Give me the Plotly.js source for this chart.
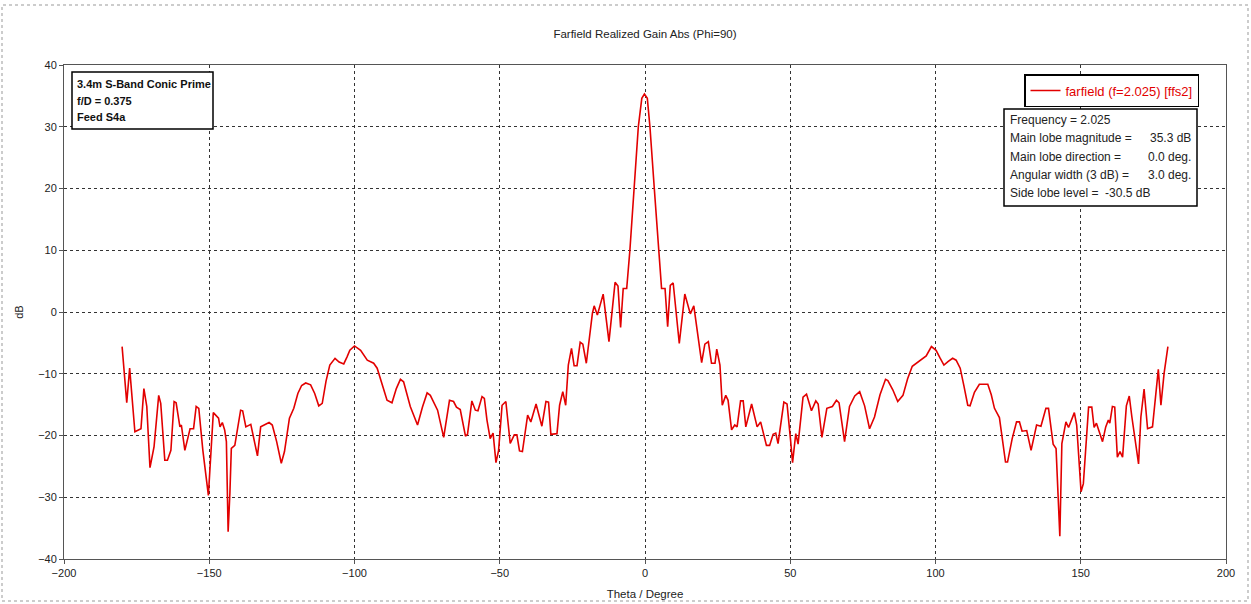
<!DOCTYPE html>
<html>
<head>
<meta charset="utf-8">
<script src="https://cdn.plot.ly/plotly-3.0.1.min.js"></script>
<style>html,body{margin:0;padding:0;background:#fff;}#chart{width:1251px;height:604px;}</style>
</head>
<body>
<div id="chart"></div>
<script>
// Theta (degrees) and realized gain (dB)
const theta = [
 -180.0,-178.4,-177.4,-175.6,-173.5,-172.5,-171.5,-170.4,-169.0,-167.4,-166.7,-165.3,-164.4,-163.2,-162.1,-161.4,
 -160.1,-159.6,-158.4,-156.6,-155.4,-154.5,-153.6,-152.2,-150.3,-148.6,-146.8,-146.3,-145.5,-144.7,-144.1,-143.5,
 -142.9,-142.4,-141.2,-139.2,-138.5,-137.4,-135.7,-133.4,-132.3,-130.9,-129.4,-128.3,-126.8,-125.2,-124.1,-122.4,
 -120.9,-119.5,-118.2,-116.8,-115.1,-113.7,-112.3,-111.1,-109.8,-108.5,-106.7,-105.3,-103.7,-102.6,-101.6,-100.0,-97.9,
 -95.6,-93.4,-92.2,-90.5,-88.8,-87.1,-85.6,-84.2,-83.1,-80.8,-78.3,-76.6,-75.0,-73.9,-71.4,-69.3,-67.3,-65.9,-64.9,
 -63.6,-61.8,-61.1,-59.6,-58.4,-57.5,-56.1,-55.3,-54.4,-53.3,-52.3,-51.3,-50.4,-49.2,-47.9,-46.4,-45.0,-44.1,-43.2,
 -42.2,-40.4,-39.3,-37.5,-35.5,-34.1,-33.2,-32.4,-30.3,-29.4,-28.3,-27.3,-26.4,-25.3,-24.4,-23.4,-22.3,-21.4,-20.2,
 -18.1,-17.5,-16.4,-14.4,-12.4,-10.3,-9.3,-8.4,-7.5,-6.3,-5.2,-3.8,-2.3,-1.1,-0.2,0.8,1.7,3.2,4.6,5.7,6.9,7.8,8.7,
 9.7,11.8,13.7,15.6,16.8,19.5,20.6,21.8,22.9,24.1,24.7,25.8,26.6,27.8,28.6,29.8,30.9,31.7,32.9,33.8,34.7,36.7,38.6,
 39.8,41.8,42.9,44.1,45.0,45.8,47.8,48.9,50.1,50.8,51.9,52.7,54.4,55.6,57.3,58.8,59.6,60.9,62.6,64.5,65.9,66.8,68.7,
 70.4,72.2,73.9,75.6,77.3,79.0,80.9,82.8,83.6,85.3,87.0,88.8,90.4,92.0,94.7,96.8,98.6,100.2,101.5,102.9,104.4,105.9,
 107.1,108.5,109.8,111.1,111.9,113.4,115.1,118.0,119.2,120.3,122.0,124.1,124.8,126.4,127.9,128.9,129.8,131.4,132.9,
 134.8,136.3,138.0,138.9,140.5,141.5,142.4,142.8,143.5,144.9,145.8,147.8,148.6,150.1,150.9,152.7,153.8,154.6,155.4,
 157.5,158.6,159.5,160.0,160.9,161.7,162.6,163.5,164.4,165.7,166.7,167.6,169.9,170.7,171.8,173.0,174.7,176.7,177.6,
 178.7,180.0
];
const gain = [
 -5.6,-14.7,-9.1,-19.4,-18.9,-12.4,-15.3,-25.2,-21.8,-13.5,-14.8,-24.0,-24.0,-22.4,-14.5,-14.7,
 -18.6,-18.3,-22.4,-18.9,-18.9,-15.3,-15.6,-22.4,-29.7,-16.3,-17.2,-18.6,-17.9,-19.1,-21.0,-35.6,
 -29.4,-22.1,-21.6,-15.9,-16.0,-18.6,-18.2,-23.3,-18.6,-18.3,-17.9,-18.3,-21.0,-24.5,-22.6,-17.2,
 -15.6,-13.2,-11.9,-11.5,-11.8,-13.2,-15.2,-14.8,-11.2,-8.6,-7.5,-8.1,-8.4,-7.3,-6.2,-5.5,-6.2,
 -7.8,-8.3,-9.1,-11.8,-14.3,-14.7,-12.4,-10.9,-11.3,-15.3,-18.3,-15.4,-13.1,-13.5,-15.9,-20.3,-14.3,-14.5,-15.4,
 -15.8,-20.1,-19.8,-14.4,-15.9,-16.0,-13.7,-14.0,-17.5,-20.5,-19.6,-24.4,-22.4,-15.1,-14.5,-21.3,-19.9,-19.9,-22.5,
 -22.6,-16.7,-17.8,-14.9,-18.5,-14.5,-14.6,-19.8,-19.7,-15.1,-12.9,-15.1,-8.6,-5.9,-8.7,-8.7,-4.9,-5.2,-8.3,
 -0.2,1.0,-0.5,2.9,-4.8,4.8,4.2,-2.5,3.8,3.8,10.0,20.0,30.0,34.6,35.3,34.6,30.0,20.0,10.0,3.8,3.8,-2.4,4.3,
 4.7,-5.1,2.9,-0.3,1.0,-8.2,-5.2,-4.8,-8.3,-8.3,-6.0,-8.6,-15.1,-13.5,-14.3,-19.1,-18.3,-18.6,-14.4,-14.4,-18.6,-14.9,-18.6,
 -17.8,-21.6,-21.6,-19.8,-19.6,-21.3,-14.6,-14.9,-20.7,-24.4,-19.7,-21.4,-13.8,-13.3,-16.0,-14.4,-14.9,-20.3,-15.6,-15.3,-14.3,-14.7,-21.0,
 -15.3,-13.6,-12.9,-15.2,-18.9,-17.0,-13.4,-10.9,-11.1,-12.6,-14.5,-13.5,-10.8,-8.8,-7.9,-7.1,-5.6,-6.2,-7.4,-8.6,-8.0,-7.5,
 -7.8,-9.1,-12.0,-15.1,-15.2,-13.0,-11.7,-11.7,-13.4,-15.6,-17.1,-24.3,-24.3,-20.5,-17.8,-17.8,-19.3,-19.2,-22.4,
 -18.3,-18.5,-15.6,-15.6,-21.4,-22.1,-32.6,-36.3,-21.3,-17.8,-18.7,-16.3,-18.3,-29.1,-27.8,-15.4,-15.4,-18.7,-18.0,
 -21.0,-18.6,-17.5,-18.0,-15.3,-15.4,-23.5,-22.6,-23.5,-15.2,-13.6,-17.0,-24.6,-17.0,-12.5,-18.9,-18.6,-9.3,-15.1,
 -9.9,-5.6
];
const xTickVals = [-200,-150,-100,-50,0,50,100,150,200];
const yTickVals = [-40,-30,-20,-10,0,10,20,30,40];
const chartTitle = 'Farfield Realized Gain Abs (Phi=90)';
const seriesName = 'farfield (f=2.025) [ffs2]';
const infoLines = ['<b>3.4m S-Band Conic Prime</b>', '<b>f/D = 0.375</b>', '<b>Feed S4a</b>'];
const statLabels = ['Frequency = 2.025', 'Main lobe magnitude =', 'Main lobe direction =', 'Angular width (3 dB) =', 'Side lobe level =  -30.5 dB'];
const statValues = ['', '35.3 dB', '0.0 deg.', '3.0 deg.', ''];

// layout geometry (pixels)
const W = 1251, H = 604, L = 64, R = 25, T = 65, B = 45;
const PW = W - L - R, PH = H - T - B;
const px = x => (x - L) / PW;
const py = y => (H - B - y) / PH;

const FONT = 'Liberation Sans, Arial, sans-serif';
const shapes = [
  {type:'rect', xref:'paper', yref:'paper', x0:px(72), x1:px(213), y0:py(129), y1:py(72),
   line:{color:'#000', width:1.5}, fillcolor:'#fff', layer:'above'},
  {type:'rect', xref:'paper', yref:'paper', x0:px(1004), x1:px(1197), y0:py(206), y1:py(109),
   line:{color:'#000', width:1.5}, fillcolor:'#fff', layer:'above'},
  {type:'rect', xref:'paper', yref:'paper', x0:px(2), x1:px(1248), y0:py(601), y1:py(5),
   line:{color:'#999', width:1, dash:'dot'}, fillcolor:'rgba(0,0,0,0)', layer:'below'}
];
const annotations = [];
infoLines.forEach((t, i) => annotations.push({
  xref:'paper', yref:'paper', x:px(75), y:py(84 + i*16.5), xanchor:'left', yanchor:'middle',
  text:t, showarrow:false, font:{family:FONT, size:11, color:'#111'}
}));
statLabels.forEach((t, i) => annotations.push({
  xref:'paper', yref:'paper', x:px(1008), y:py(120 + i*18.3), xanchor:'left', yanchor:'middle',
  text:t, showarrow:false, font:{family:FONT, size:12, color:'#222'}
}));
statValues.forEach((t, i) => { if (t) annotations.push({
  xref:'paper', yref:'paper', x:px(1193), y:py(120 + i*18.3), xanchor:'right', yanchor:'middle',
  text:t, showarrow:false, font:{family:FONT, size:12, color:'#222'}
}); });

const trace = {
  x: theta, y: gain, type:'scatter', mode:'lines', name: seriesName,
  line:{color:'rgb(226,0,0)', width:1.6}
};

const axisCommon = {
  showline:true, linecolor:'#555', linewidth:1, mirror:true,
  ticks:'outside', ticklen:4, tickcolor:'#555',
  showgrid:true, gridcolor:'#333', griddash:'dot', gridwidth:1,
  zeroline:false, tickfont:{family:FONT, size:11, color:'#222'}
};

const layout = {
  width:W, height:H,
  margin:{l:L, r:R, t:T, b:B},
  paper_bgcolor:'#fff', plot_bgcolor:'#fff',
  font:{family:FONT, color:'#222'},
  title:{text:chartTitle, x:0.5, xref:'paper', y:1 - 34/H, yref:'container', yanchor:'middle',
         font:{family:FONT, size:11.5, color:'#222'}},
  xaxis:Object.assign({}, axisCommon, {range:[-200,200], tickvals:xTickVals,
         title:{text:'Theta / Degree', standoff:11, font:{family:FONT, size:11.5, color:'#222'}}}),
  yaxis:Object.assign({}, axisCommon, {range:[-40,40], tickvals:yTickVals,
         title:{text:'dB', standoff:12, font:{family:FONT, size:11, color:'#222'}}}),
  showlegend:true,
  legend:{x:px(1024), y:py(74), xanchor:'left', yanchor:'top', bgcolor:'#fff',
          bordercolor:'#000', borderwidth:1.5, font:{family:FONT, size:13, color:'rgb(226,0,0)'},
          tracegroupgap:0, itemwidth:30},
  shapes:shapes, annotations:annotations
};

Plotly.newPlot('chart', [trace], layout, {displayModeBar:false, staticPlot:true});
</script>
</body>
</html>
